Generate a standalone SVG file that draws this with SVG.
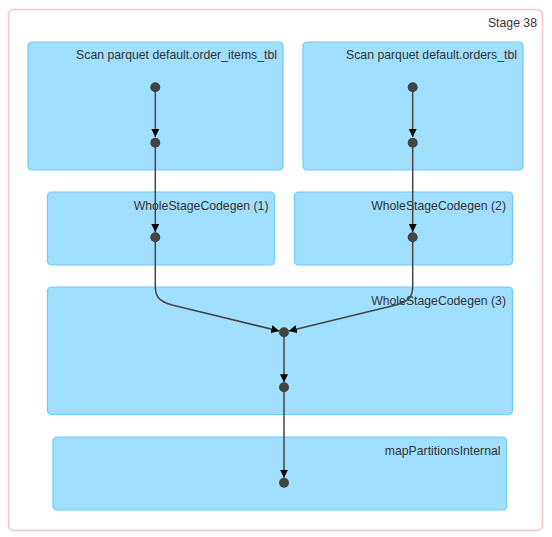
<svg xmlns="http://www.w3.org/2000/svg" width="552" height="537" viewBox="0 0 552 537">
<defs>
<style>
.cluster rect{fill:#A0DFFF;stroke:#6DCBF8;stroke-width:1.2}
.stage{fill:#FFFFFF;stroke:#FFC0CB;stroke-width:1.5}
text{font-family:"Liberation Sans",Arial,sans-serif;font-size:12.25px;fill:#333333;text-anchor:end}
.node{fill:#444444}
.edge{fill:none;stroke:#444444;stroke-width:1.5}
</style>
<marker id="arrow" viewBox="0 0 10 10" refX="10" refY="5" markerWidth="8" markerHeight="8" markerUnits="userSpaceOnUse" orient="auto">
<path d="M0,0 L10,5 L0,10 z" fill="#000000"/>
</marker>
</defs>
<g id="stage">
<rect class="stage" x="8.5" y="9.5" width="534" height="521" rx="5"/>
<text x="537" y="27">Stage 38</text>
</g>
<g id="scan-order-items" class="cluster">
<rect x="28" y="42" width="255" height="128" rx="4"/>
<text x="277" y="59">Scan parquet default.order_items_tbl</text>
</g>
<g id="scan-orders" class="cluster">
<rect x="303" y="42" width="220" height="128" rx="4"/>
<text x="517" y="59">Scan parquet default.orders_tbl</text>
</g>
<g id="wscg1" class="cluster">
<rect x="47.5" y="192" width="227" height="73" rx="4"/>
<text x="268.5" y="210">WholeStageCodegen (1)</text>
</g>
<g id="wscg2" class="cluster">
<rect x="294.5" y="192" width="218" height="73" rx="4"/>
<text x="506" y="210">WholeStageCodegen (2)</text>
</g>
<g id="wscg3" class="cluster">
<rect x="47.5" y="287" width="465" height="127.5" rx="4"/>
<text x="506" y="305">WholeStageCodegen (3)</text>
</g>
<g id="map-partitions" class="cluster">
<rect x="53" y="437" width="453.5" height="73" rx="4"/>
<text x="500.5" y="455">mapPartitionsInternal</text>
</g>
<g id="connectors">
<path class="edge" d="M155.3,87.3 L155.3,137" marker-end="url(#arrow)"/>
<path class="edge" d="M155.3,142.7 L155.3,232" marker-end="url(#arrow)"/>
<path class="edge" d="M412.7,87.3 L412.7,137" marker-end="url(#arrow)"/>
<path class="edge" d="M412.7,142.7 L412.7,232" marker-end="url(#arrow)"/>
<path class="edge" d="M155.3,237.3 L155.3,286 C155.3,296 158,301 172,305 L279.2,331" marker-end="url(#arrow)"/>
<path class="edge" d="M412.7,237.3 L412.7,286 C412.7,296 410,301 396,305 L288.8,331" marker-end="url(#arrow)"/>
<path class="edge" d="M284,332.3 L284,382.3" marker-end="url(#arrow)"/>
<path class="edge" d="M284,387.3 L284,477.7" marker-end="url(#arrow)"/>
</g>
<g id="nodes">
<circle id="n1" class="node" cx="155.3" cy="87.3" r="5"/>
<circle id="n2" class="node" cx="155.3" cy="142.7" r="5"/>
<circle id="n3" class="node" cx="412.7" cy="87.3" r="5"/>
<circle id="n4" class="node" cx="412.7" cy="142.7" r="5"/>
<circle id="n5" class="node" cx="155.3" cy="237.3" r="5"/>
<circle id="n6" class="node" cx="412.7" cy="237.3" r="5"/>
<circle id="n7" class="node" cx="284" cy="332.3" r="5"/>
<circle id="n8" class="node" cx="284" cy="387.3" r="5"/>
<circle id="n9" class="node" cx="284" cy="482.7" r="5"/>
</g>
</svg>
